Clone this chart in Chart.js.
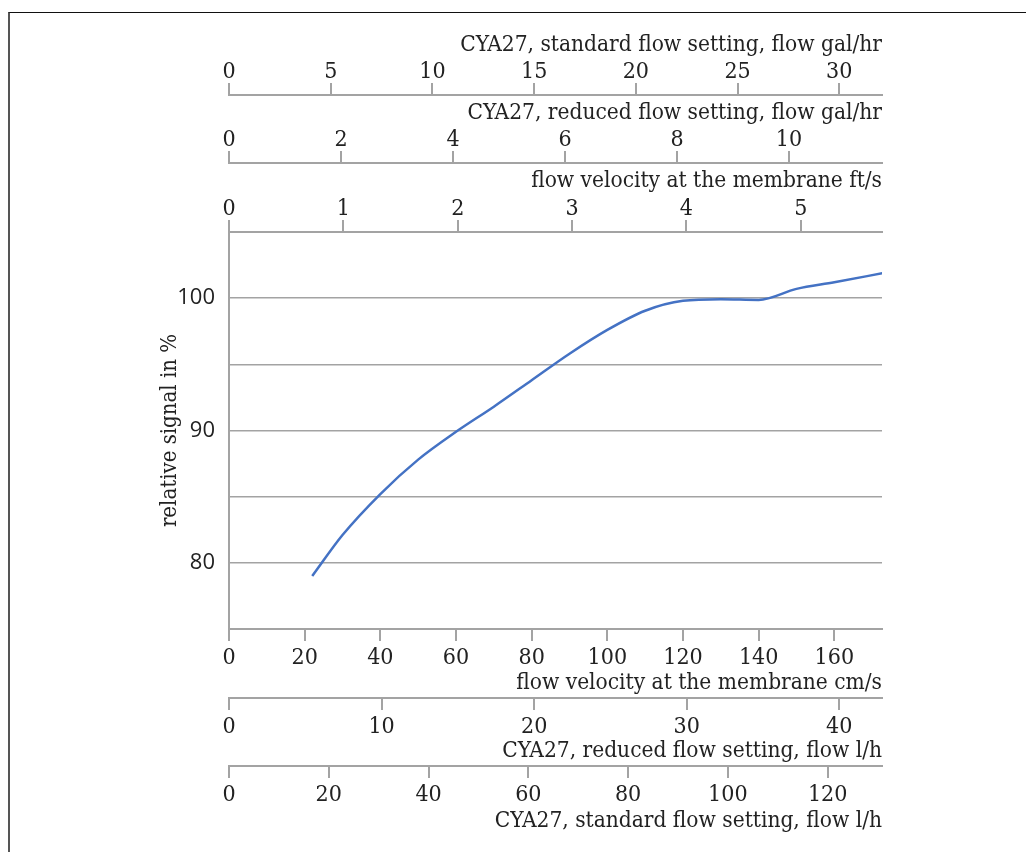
<!DOCTYPE html>
<html>
<head>
<meta charset="utf-8">
<script src="https://cdn.jsdelivr.net/npm/chart.js@4.4.0/dist/chart.umd.min.js"></script>
<style>
  html, body { margin: 0; padding: 0; background: #fff; }
  #wrap { position: relative; width: 1026px; height: 852px; overflow: hidden; }
  #frame { position: absolute; left: 8px; top: 12px; width: 1100px; height: 900px;
           border-top: 1.5px solid #111; border-left: 2px solid #555; }
  #c { position: absolute; left: 0; top: 0; }
</style>
</head>
<body>
<div id="wrap">
  <div id="frame"></div>
  <canvas id="c" width="1026" height="852"></canvas>
</div>
<script>
// ─── Data ───
const velocityCm = [22, 30, 40, 50, 60, 70, 80, 90, 100, 110, 120, 130, 140, 150, 160, 173];
const signalPct  = [79.0, 82.1, 85.2, 87.8, 89.9, 91.8, 93.8, 95.8, 97.6, 99.05, 99.8, 99.92, 99.87, 100.7, 101.2, 101.9];

const yTicks = [80, 90, 100];

// axis ranges (all start at 0)
const maxCmS      = 172.6;
const maxFtS      = 5.71;
const maxRedGal   = 11.66;
const maxStdGal   = 32.1;
const maxRedLh    = 42.8;
const maxStdLh    = 130.9;

const SERIF = '"DejaVu Serif Condensed", "DejaVu Serif", serif';
const SANS  = '"Open Sans", "DejaVu Sans", sans-serif';
const GRAY  = '#a3a3a3';
const TEXT  = '#222';

function extraAxis(opts) {
  const top = opts.position === 'top';
  return {
    type: 'linear',
    position: opts.position,
    weight: opts.weight,
    min: 0,
    max: opts.max,
    afterFit: s => { s.height = opts.height; },
    border: { display: true, color: GRAY, width: 2 },
    grid: { drawOnChartArea: false, drawTicks: true, tickLength: 12, color: GRAY, lineWidth: 2 },
    ticks: {
      stepSize: opts.step, includeBounds: false, autoSkip: false, maxRotation: 0,
      color: TEXT, padding: top ? -3 : 3, font: { family: SERIF, size: 23 },
    },
    title: {
      display: true, text: opts.title, align: 'end', color: TEXT,
      font: { family: SERIF, size: 22.5 },
      padding: top ? { top: 5, bottom: 0 } : { top: 0, bottom: 1 },
    },
  };
}

const ctx = document.getElementById('c').getContext('2d');
new Chart(ctx, {
  type: 'line',
  data: {
    datasets: [{
      data: velocityCm.map((v, i) => ({ x: v, y: signalPct[i] })),
      borderColor: '#4472c4',
      borderWidth: 2.5,
      pointRadius: 0,
      cubicInterpolationMode: 'monotone',
      fill: false,
      xAxisID: 'x',
      yAxisID: 'y',
    }],
  },
  options: {
    responsive: false,
    animation: false,
    layout: { padding: { left: 153, right: 144, top: 27, bottom: 16 } },
    plugins: { legend: { display: false }, tooltip: { enabled: false } },
    scales: {
      x:    extraAxis({ position: 'bottom', weight: 0, max: maxCmS,    step: 20, height: 69, title: 'flow velocity at the membrane cm/s' }),
      xRl:  extraAxis({ position: 'bottom', weight: 1, max: maxRedLh,  step: 10, height: 68, title: 'CYA27, reduced flow setting, flow l/h' }),
      xSl:  extraAxis({ position: 'bottom', weight: 2, max: maxStdLh,  step: 20, height: 70, title: 'CYA27, standard flow setting, flow l/h' }),
      xFt:  extraAxis({ position: 'top',    weight: 0, max: maxFtS,    step: 1,  height: 69, title: 'flow velocity at the membrane ft/s' }),
      xRg:  extraAxis({ position: 'top',    weight: 1, max: maxRedGal, step: 2,  height: 68, title: 'CYA27, reduced flow setting, flow gal/hr' }),
      xSg:  extraAxis({ position: 'top',    weight: 2, max: maxStdGal, step: 5,  height: 68, title: 'CYA27, standard flow setting, flow gal/hr' }),
      y: {
        type: 'linear',
        min: 75, max: 105,
        afterFit: s => { s.width = 76; },
        border: { display: true, color: GRAY, width: 2 },
        grid: { drawTicks: false, color: GRAY, lineWidth: 1.5 },
        ticks: {
          stepSize: 5, padding: 14, color: TEXT, font: { family: SANS, size: 22 },
          callback: v => yTicks.includes(v) ? String(v) : '',
        },
        title: {
          display: true, text: 'relative signal in %', color: TEXT,
          font: { family: SERIF, size: 22 }, padding: { top: 4, bottom: 4 },
        },
      },
    },
  },
});
</script>
</body>
</html>
